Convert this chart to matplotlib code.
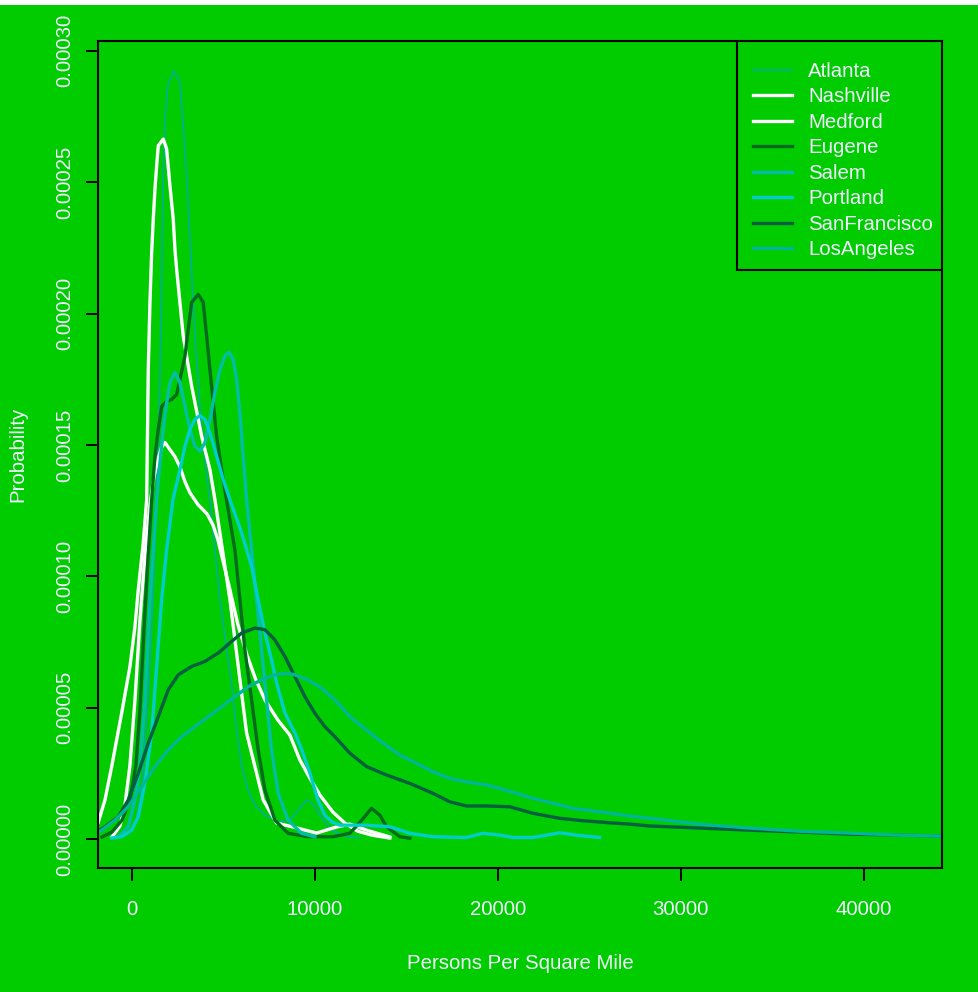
import matplotlib
matplotlib.use("Agg")
import matplotlib.pyplot as plt
from matplotlib.patches import Rectangle

# densidades (x = personas por milla cuadrada, y = probabilidad)
atlanta_x = [-1080, -200, 235, 562, 890, 1163, 1382, 1545, 1627, 1709, 1819, 1982, 2310, 2638, 2801,
             3020, 3184, 3348, 3511, 3784, 4058, 4276, 4549, 4822, 5204, 5477, 5750, 6024, 6351,
             6733, 7280, 8099, 8754, 9191, 9573, 9955, 10392, 10938, 11648, 12468]
atlanta_y = [0.4e-6, 1.9e-6, 6.5e-6, 18.7e-6, 53.0e-6, 91.1e-6, 136.8e-6, 174.9e-6, 205.4e-6, 247.3e-6,
             274.0e-6, 287.3e-6, 292.3e-6, 288.1e-6, 272.9e-6, 251.1e-6, 228.3e-6, 205.4e-6, 186.3e-6,
             159.7e-6, 140.6e-6, 129.2e-6, 110.1e-6, 91.1e-6, 72.0e-6, 57.9e-6, 40.4e-6, 27.4e-6,
             18.7e-6, 13.0e-6, 9.1e-6, 6.5e-6, 8.0e-6, 11.8e-6, 14.9e-6, 13.0e-6, 8.0e-6, 3.4e-6,
             1.1e-6, 0.4e-6]

nashville_x = [-2300, -1840, -1458, -1092, -546, -93, 180, 360, 633, 819, 907, 999, 1092, 1180, 1272,
               1365, 1453, 1726, 1911, 2092, 2272, 2365, 2457, 2818, 3277, 3823, 4276, 4549, 5368,
               6280, 7187, 7918, 8825, 10103, 11195, 11921, 12833, 14106]
nashville_y = [2.5e-6, 6.1e-6, 14.9e-6, 27.6e-6, 48.0e-6, 65.7e-6, 80.9e-6, 94.9e-6, 112.8e-6, 129.2e-6,
               178.7e-6, 204.3e-6, 223.2e-6, 235.9e-6, 247.3e-6, 256.2e-6, 263.8e-6, 266.4e-6, 262.6e-6,
               248.6e-6, 235.9e-6, 224.4e-6, 216.8e-6, 191.4e-6, 172.4e-6, 153.3e-6, 140.6e-6, 129.2e-6,
               91.1e-6, 40.4e-6, 14.9e-6, 6.1e-6, 4.6e-6, 2.3e-6, 4.6e-6, 5.7e-6, 3.4e-6, 0.8e-6]

medford_x = [-1076, -639, -366, -93, 180, 453, 726, 999, 1218, 1436, 1627, 1819, 2092, 2365, 2638, 2911,
             3184, 3621, 4112, 4440, 4713, 5041, 5368, 5805, 6297, 6788, 7280, 7989, 8645, 9191, 9737,
             10283, 10993, 11648, 12358, 13123, 14106]
medford_y = [0.8e-6, 5.0e-6, 13.0e-6, 28.2e-6, 53.0e-6, 83.4e-6, 108.2e-6, 127.3e-6, 137.9e-6, 144.4e-6,
             149.0e-6, 150.9e-6, 148.2e-6, 145.5e-6, 141.7e-6, 136.0e-6, 131.8e-6, 127.3e-6, 123.8e-6,
             119.6e-6, 113.9e-6, 104.4e-6, 94.9e-6, 81.6e-6, 70.1e-6, 60.6e-6, 53.0e-6, 45.3e-6, 39.6e-6,
             30.1e-6, 23.2e-6, 16.8e-6, 10.3e-6, 6.1e-6, 3.0e-6, 1.5e-6, 0.4e-6]

eugene_x = [-1622, -1076, -530, -93, 235, 453, 672, 890, 1092, 1272, 1453, 1638, 1911, 2184, 2457, 2638,
            2911, 3091, 3277, 3637, 3910, 4096, 4276, 4456, 4642, 4915, 5180, 5641, 5914, 6187, 6553,
            6914, 7280, 7826, 8552, 9644, 11009, 11921, 12577, 13106, 13560, 13926, 14652, 15198]
eugene_y = [0.8e-6, 2.7e-6, 7.2e-6, 14.9e-6, 28.2e-6, 49.2e-6, 79.6e-6, 106.3e-6, 129.2e-6, 145.5e-6,
            155.9e-6, 164.6e-6, 166.6e-6, 167.3e-6, 169.2e-6, 174.9e-6, 183.8e-6, 194.0e-6, 204.2e-6,
            207.3e-6, 204.2e-6, 191.4e-6, 178.7e-6, 166.0e-6, 153.3e-6, 140.6e-6, 129.2e-6, 110.1e-6,
            91.1e-6, 72.0e-6, 53.0e-6, 33.9e-6, 18.7e-6, 7.2e-6, 2.2e-6, 0.9e-6, 0.9e-6, 2.2e-6, 7.2e-6,
            11.7e-6, 9.1e-6, 4.7e-6, 0.9e-6, 0.3e-6]

salem_x = [-732, -186, 180, 453, 726, 999, 1365, 1545, 1726, 1911, 2092, 2365, 2638, 2911, 3184, 3457,
           3730, 4003, 4276, 4549, 4822, 5095, 5314, 5548, 5734, 5914, 6095, 6280, 6553, 6826, 7099,
           7372, 7645, 8006, 8552, 9284, 10010]
salem_y = [0.9e-6, 4.7e-6, 14.9e-6, 27.6e-6, 53.0e-6, 91.1e-6, 129.2e-6, 143.2e-6, 155.9e-6, 166.0e-6,
           173.7e-6, 177.5e-6, 173.7e-6, 164.7e-6, 155.9e-6, 149.5e-6, 147.6e-6, 150.8e-6, 159.7e-6,
           169.9e-6, 178.7e-6, 183.8e-6, 185.3e-6, 182.5e-6, 174.9e-6, 162.2e-6, 145.7e-6, 129.2e-6,
           110.1e-6, 91.1e-6, 72.0e-6, 53.0e-6, 33.9e-6, 17.4e-6, 7.2e-6, 2.2e-6, 0.9e-6]

portland_x = [-1092, -546, 0, 360, 726, 1092, 1365, 1638, 1911, 2255, 2638, 2911, 3184, 3457, 3730, 4003,
              4276, 4642, 5002, 5368, 6007, 6553, 6914, 7280, 7645, 7918, 8372, 8918, 9300, 9737, 10174,
              10556, 10938, 11375, 12833, 14106, 15198, 16470, 18294, 19201, 20113, 20839, 21931, 23390,
              24301, 25574]
portland_y = [0.4e-6, 0.9e-6, 3.4e-6, 8.5e-6, 21.3e-6, 40.4e-6, 65.7e-6, 91.1e-6, 110.1e-6, 129.2e-6,
              140.6e-6, 149.5e-6, 155.9e-6, 159.7e-6, 161.2e-6, 159.7e-6, 154.6e-6, 145.7e-6, 136.8e-6,
              129.2e-6, 116.6e-6, 103.8e-6, 91.1e-6, 78.5e-6, 68.2e-6, 59.5e-6, 48.0e-6, 40.4e-6, 33.9e-6,
              25.2e-6, 14.9e-6, 9.1e-6, 6.5e-6, 5.3e-6, 5.3e-6, 4.7e-6, 2.2e-6, 0.9e-6, 0.6e-6, 2.2e-6,
              1.5e-6, 0.6e-6, 0.6e-6, 2.4e-6, 1.5e-6, 0.6e-6]

sanfrancisco_x = [-2277, -1840, -1458, -732, -186, 360, 907, 1453, 1999, 2545, 3277, 4003, 4729, 5461,
                  6007, 6733, 7280, 7826, 8372, 8918, 9464, 10010, 10556, 11102, 11921, 12833, 13926,
                  15198, 16470, 17383, 18294, 19387, 20659, 21931, 23390, 24662, 26120, 27212, 28304,
                  31035, 33765, 36496, 39226, 41957, 44688]
sanfrancisco_y = [1.9e-6, 3.0e-6, 4.7e-6, 8.5e-6, 14.9e-6, 25.0e-6, 36.5e-6, 46.6e-6, 56.8e-6, 62.5e-6,
                  65.7e-6, 67.6e-6, 70.8e-6, 75.2e-6, 78.4e-6, 80.3e-6, 79.7e-6, 75.8e-6, 69.5e-6, 61.9e-6,
                  54.2e-6, 47.9e-6, 42.8e-6, 39.0e-6, 32.7e-6, 27.6e-6, 24.4e-6, 21.2e-6, 17.4e-6, 14.2e-6,
                  12.6e-6, 12.6e-6, 12.3e-6, 9.8e-6, 7.9e-6, 7.0e-6, 6.2e-6, 5.7e-6, 5.0e-6, 4.2e-6,
                  3.4e-6, 2.7e-6, 1.9e-6, 1.5e-6, 1.1e-6]

losangeles_x = [-2168, -1638, -912, -186, 546, 1272, 1999, 2731, 3457, 4183, 4915, 5641, 6367, 7099, 7826,
                8372, 8918, 9644, 10376, 11102, 11921, 12833, 13740, 14652, 15564, 16470, 17383, 18294,
                19387, 20113, 21025, 21931, 23024, 24116, 25574, 27212, 29216, 31035, 33765, 36496, 39226,
                41957, 44688]
losangeles_y = [1.1e-6, 3.4e-6, 7.2e-6, 12.3e-6, 19.9e-6, 27.6e-6, 33.9e-6, 39.0e-6, 42.8e-6, 46.6e-6,
                50.4e-6, 54.2e-6, 58.0e-6, 60.6e-6, 62.5e-6, 63.1e-6, 62.5e-6, 60.6e-6, 57.4e-6, 53.0e-6,
                46.6e-6, 41.5e-6, 36.5e-6, 32.0e-6, 28.8e-6, 25.6e-6, 23.1e-6, 21.8e-6, 20.6e-6, 19.3e-6,
                17.4e-6, 15.5e-6, 13.6e-6, 11.7e-6, 10.4e-6, 8.8e-6, 7.2e-6, 5.7e-6, 4.2e-6, 3.0e-6, 2.3e-6,
                1.5e-6, 1.1e-6]

ciudades = ["Atlanta", "Nashville", "Medford", "Eugene", "Salem", "Portland", "SanFrancisco", "LosAngeles"]
colores = ["#00b383", "#ffffff", "#ffffff", "#006b1e", "#00bfa6", "#00cdcd", "#005f3f", "#00b795"]
grosor = [1.4, 2.4, 2.4, 2.4, 2.4, 2.4, 2.4, 2.4]
xs = [atlanta_x, nashville_x, medford_x, eugene_x, salem_x, portland_x, sanfrancisco_x, losangeles_x]
ys = [atlanta_y, nashville_y, medford_y, eugene_y, salem_y, portland_y, sanfrancisco_y, losangeles_y]

xticks = [0, 10000, 20000, 30000, 40000]
yticks = [0.0, 0.00005, 0.00010, 0.00015, 0.00020, 0.00025, 0.00030]
ytick_labels = ["0.00000", "0.00005", "0.00010", "0.00015", "0.00020", "0.00025", "0.00030"]

verde = "#00cc00"
color_txt = "#f0f0ff"
plt.rcParams["font.family"] = ["Liberation Sans", "DejaVu Sans"]
tam = 14.7

fig = plt.figure(figsize=(9.79, 9.92), dpi=100, facecolor=verde)
fig.patches.append(Rectangle((0, 1 - 5 / 992), 1, 5 / 992, transform=fig.transFigure,
                             facecolor="white", edgecolor="none"))
ax = fig.add_axes([98 / 979, 1 - 868 / 992, (942 - 98) / 979, (868 - 41) / 992])
ax.set_facecolor(verde)

for i in range(len(ciudades)):
    ax.plot(xs[i], ys[i], color=colores[i], lw=grosor[i], label=ciudades[i])

ax.set_xlim(-1840, 44280)
ax.set_ylim(-0.0000110, 0.0003037)
ax.set_xticks(xticks)
ax.set_xticklabels([str(t) for t in xticks])
ax.set_yticks(yticks)
ax.set_yticklabels(ytick_labels, rotation=90, va="center")
ax.tick_params(length=9, width=1.4, color="black", labelsize=tam, labelcolor=color_txt)
ax.tick_params(axis="x", pad=14)
ax.tick_params(axis="y", pad=8)
for lado in ax.spines.values():
    lado.set_linewidth(1.5)
    lado.set_color("black")

ax.set_xlabel("Persons Per Square Mile", fontsize=tam, color=color_txt)
ax.set_ylabel("Probability", fontsize=tam, color=color_txt)
ax.xaxis.set_label_coords(0.5, -0.115)
ax.yaxis.set_label_coords(-0.095, 0.5)
ax.xaxis.label.set_va("center")
ax.yaxis.label.set_va("center")

# caja de la leyenda dibujada aparte, como en R
ax.add_patch(Rectangle((0.7571, 0.7231), 0.2429, 0.2769, transform=ax.transAxes,
                       facecolor=verde, edgecolor="black", lw=1.5, zorder=4))
leg = ax.legend(loc="upper left", bbox_to_anchor=(0.776, 0.975), borderaxespad=0, borderpad=0,
                frameon=False, fontsize=tam, handlelength=1.9, handletextpad=0.8,
                labelspacing=0.32)
leg.set_zorder(5)
for t in leg.get_texts():
    t.set_color(color_txt)

fig.savefig("out.png", dpi=100, facecolor=verde)
